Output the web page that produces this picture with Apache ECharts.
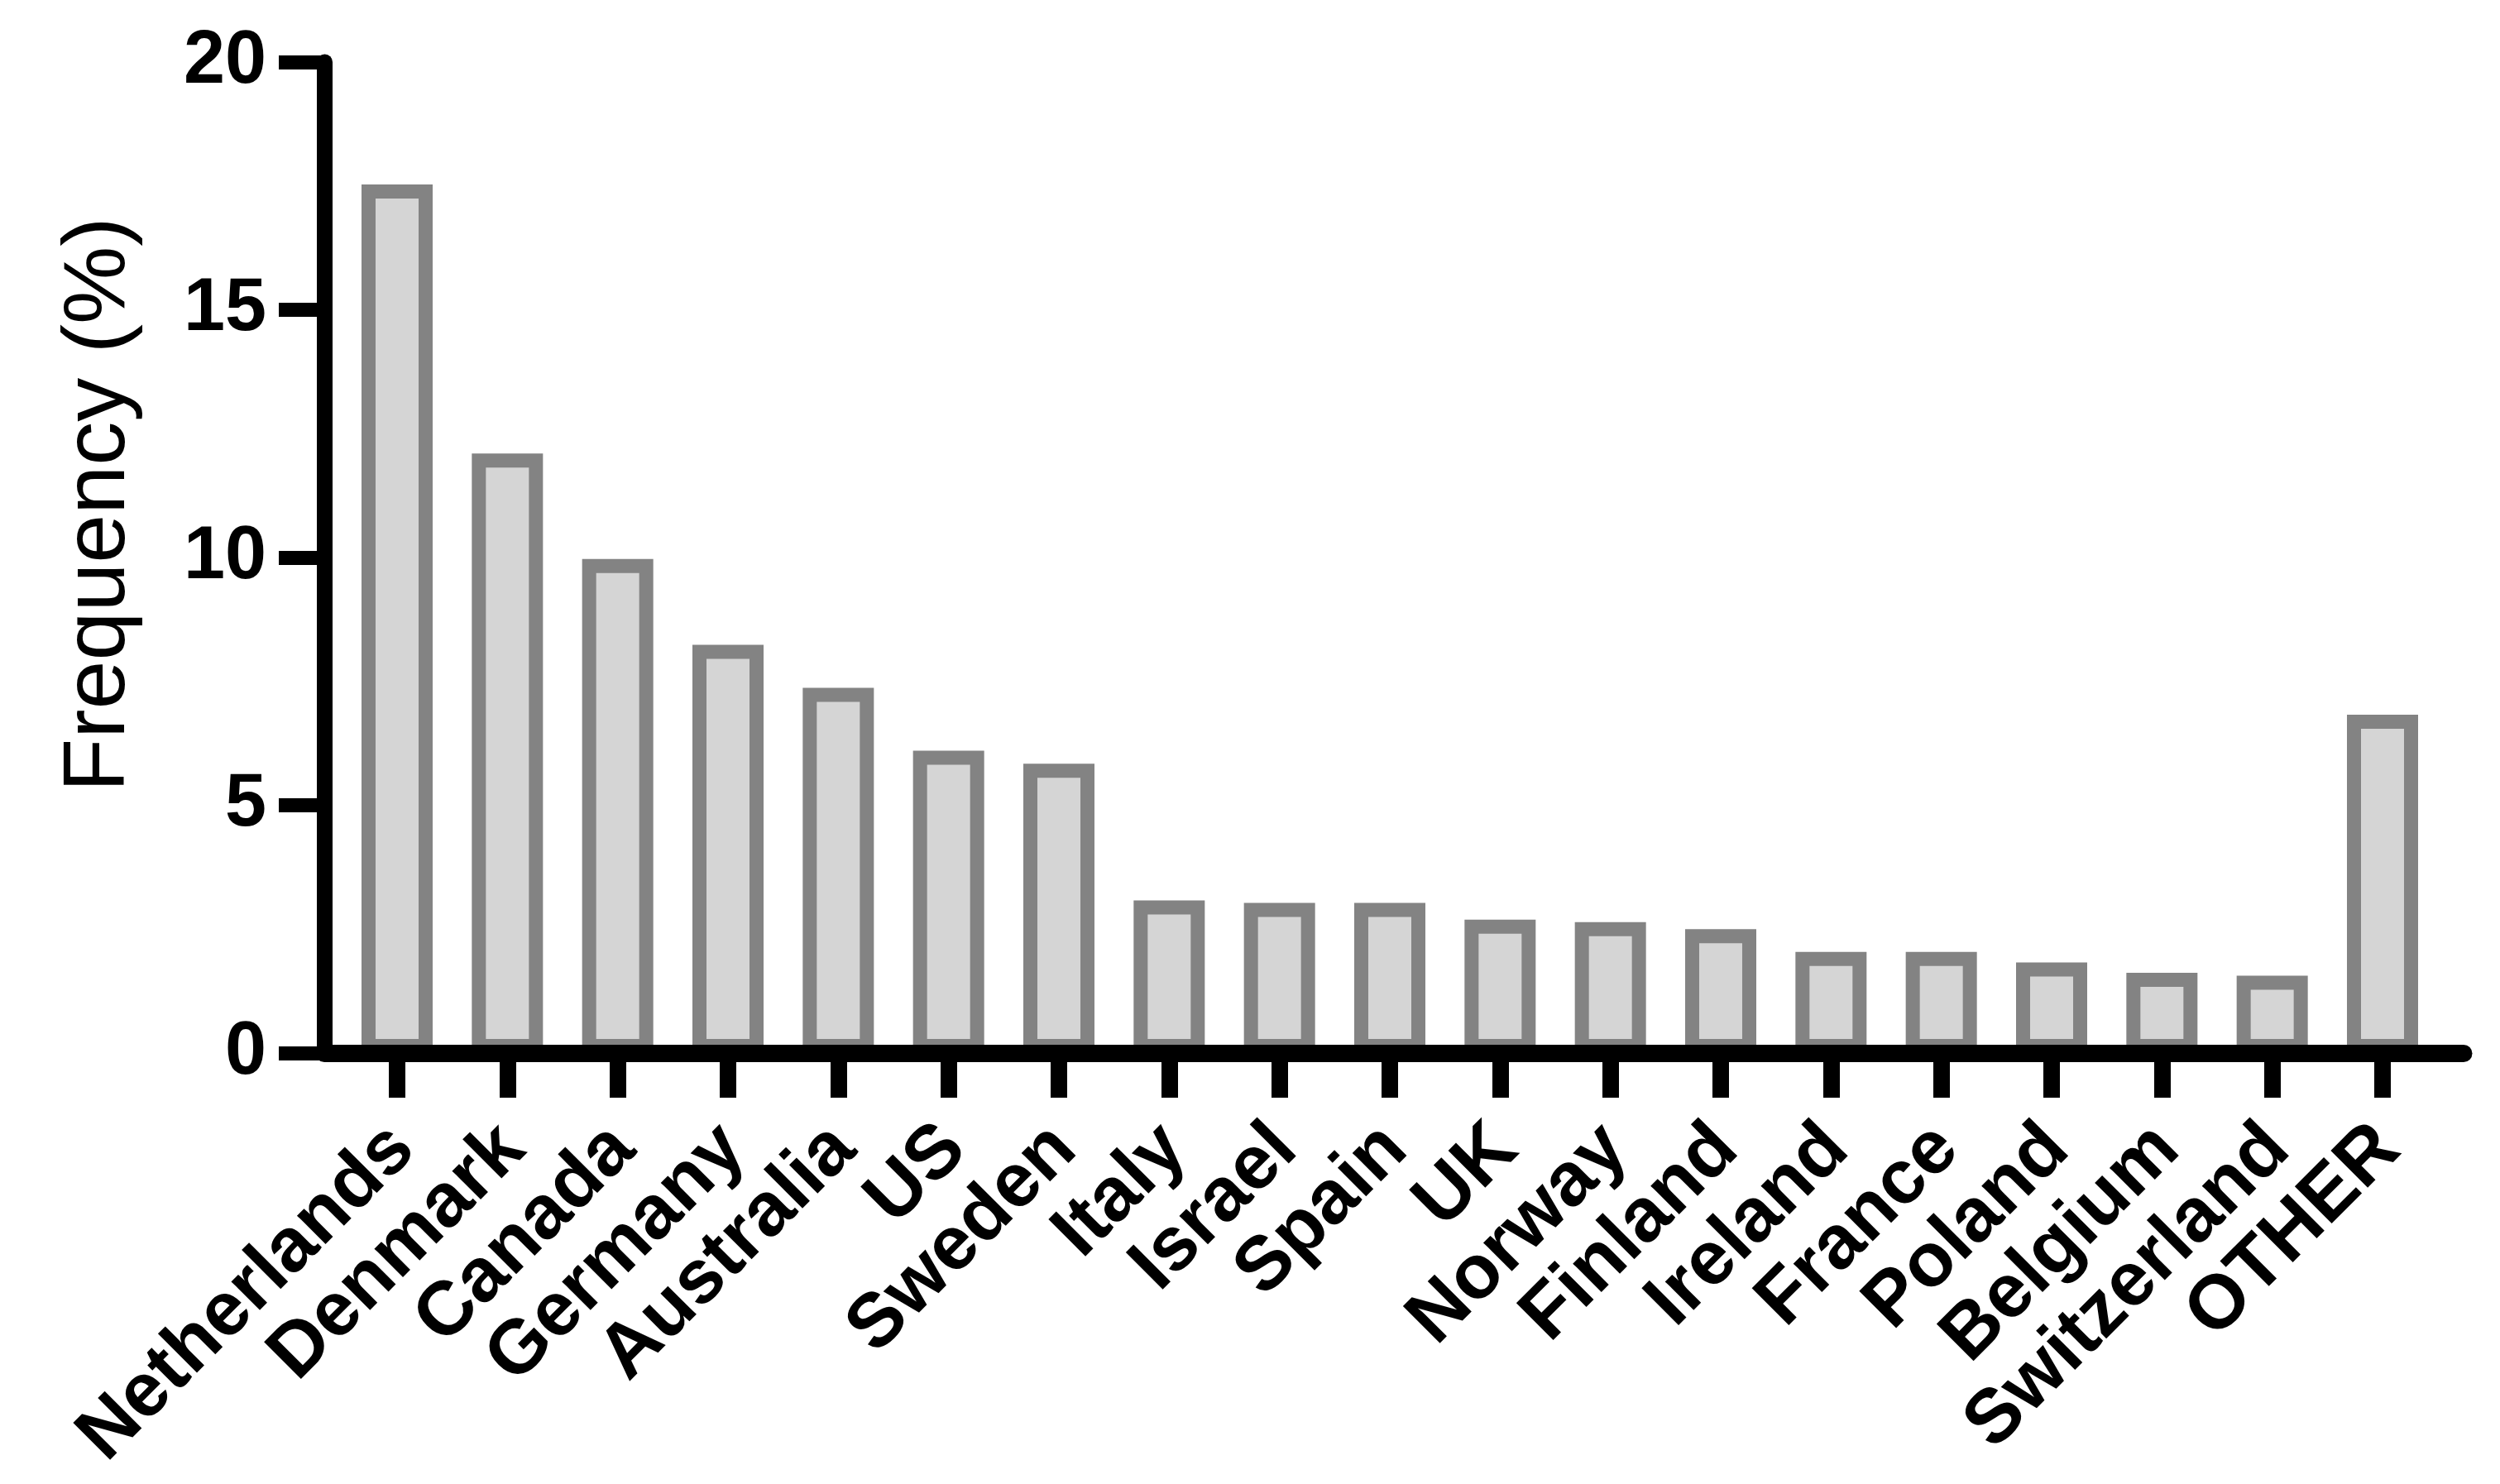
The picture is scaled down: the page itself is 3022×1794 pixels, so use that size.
<!DOCTYPE html>
<html>
<head>
<meta charset="utf-8">
<script src="https://cdn.jsdelivr.net/npm/echarts@6/dist/echarts.min.js"></script>
<style>
html,body{margin:0;padding:0;background:#fff;}
#chart{width:3022px;height:1794px;}
</style>
</head>
<body>
<div id="chart"></div>
<script>
const categories = ['Netherlands','Denmark','Canada','Germany','Australia','US','Sweden','Italy','Israel','Spain','UK','Norway','Finland','Ireland','France','Poland','Belgium','Switzerland','OTHER'];
const frequency = [17.53, 12.1, 9.97, 8.24, 7.37, 6.1, 5.84, 3.08, 3.03, 3.03, 2.69, 2.64, 2.5, 2.04, 2.04, 1.83, 1.62, 1.56, 6.83];
const yTicks = [0, 5, 10, 15, 20];

const FONT = '"Liberation Sans", Arial, Helvetica, sans-serif';
const idx = categories.map((c, i) => i);
const labelShift = 0.05;

const chart = echarts.init(document.getElementById('chart'), null, {renderer: 'canvas'});
chart.setOption({
  animation: false,
  backgroundColor: '#ffffff',
  grid: {left: 392, right: 44, top: 75, bottom: 521, containLabel: false},
  xAxis: {
    type: 'value',
    min: -0.66,
    max: 18.735,
    z: 5,
    splitLine: {show: false},
    axisLine: {show: true, onZero: false, lineStyle: {color: '#000', width: 21}},
    axisTick: {show: true, length: 54, customValues: idx, lineStyle: {color: '#000', width: 20}},
    axisLabel: {
      show: true,
      customValues: idx.map(i => i + labelShift),
      rotate: 45,
      margin: 102,
      fontSize: 92,
      fontWeight: 'bold',
      fontFamily: FONT,
      color: '#000',
      formatter: v => categories[Math.round(v - labelShift)] || ''
    }
  },
  yAxis: {
    type: 'value',
    min: 0,
    max: 20,
    interval: 5,
    z: 5,
    name: 'Frequency (%)',
    nameLocation: 'middle',
    nameGap: 218,
    nameTextStyle: {fontSize: 106, fontFamily: FONT, color: '#000', fontWeight: 'normal', padding: [0, 0, 0, 128]},
    splitLine: {show: false},
    axisLine: {show: true, onZero: false, lineStyle: {color: '#000', width: 19}},
    axisTick: {show: true, length: 55, lineStyle: {color: '#000', width: 17}},
    axisLabel: {
      margin: 70,
      fontSize: 90,
      fontWeight: 'bold',
      fontFamily: FONT,
      color: '#000',
      customValues: yTicks
    }
  },
  series: [{
    type: 'bar',
    data: frequency.map((v, i) => [i, v]),
    barWidth: 86,
    itemStyle: {color: '#d5d5d5', borderColor: '#838383', borderWidth: 17}
  }]
});
</script>
</body>
</html>
